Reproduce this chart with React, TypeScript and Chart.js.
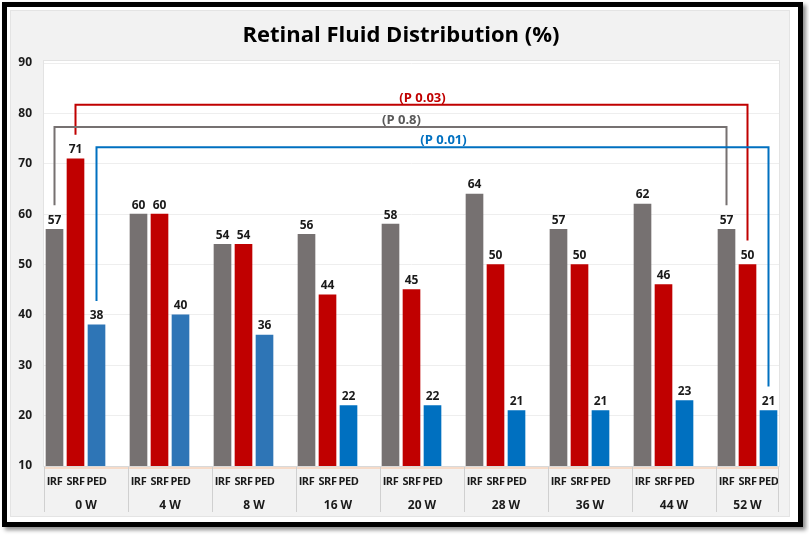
import React, { useEffect, useRef } from "react";
import { Chart, registerables, Plugin } from "chart.js";

Chart.register(...registerables);

const weeks = ["0 W", "4 W", "8 W", "16 W", "20 W", "28 W", "36 W", "44 W", "52 W"];
const seriesNames = ["IRF", "SRF", "PED"];
const irf = [57, 60, 54, 56, 58, 64, 57, 62, 57];
const srf = [71, 60, 54, 44, 45, 50, 50, 46, 50];
const ped = [38, 40, 36, 22, 22, 21, 21, 23, 21];

// p-value brackets between 0 W and 52 W
const pLabels = ["(P 0.03)", "(P 0.8)", "(P 0.01)"];
const pSeries = [1, 0, 2];
const pLevels = [81.7, 77.3, 73.3];

const seriesValues = [irf, srf, ped];
const FONT = "'Open Sans', sans-serif";
const GRAY = "#767171";
const RED = "#C00000";
const BLUE = "#0070C0";
const seriesColors = [GRAY, RED, BLUE];

// each week gets 4 slots (3 bars + a gap), the last one has no gap
const slotCount = weeks.length * 4 - 1;
const slotLabels = Array.from({ length: slotCount }, (_, i) => seriesNames[i % 4] ?? "");

const overlay: Plugin<"bar"> = {
  id: "overlay",
  beforeDraw(chart) {
    const { ctx, chartArea: a } = chart;
    ctx.save();
    ctx.fillStyle = "#ffffff";
    ctx.fillRect(a.left, a.top - 2, a.right - a.left, a.bottom - a.top + 2);
    ctx.strokeStyle = "#e3e3e3";
    ctx.lineWidth = 1;
    ctx.strokeRect(a.left - 0.5, a.top - 2.5, a.right - a.left + 1, a.bottom - a.top + 3);
    ctx.restore();
  },
  afterDatasetsDraw(chart) {
    const { ctx, chartArea: a } = chart;
    const x = chart.scales.x;
    const y = chart.scales.y;
    const slot = (a.right - a.left) / slotCount;
    ctx.save();

    // value labels
    ctx.font = `bold 12px ${FONT}`;
    ctx.fillStyle = "#1a1a1a";
    ctx.textAlign = "center";
    ctx.textBaseline = "bottom";
    chart.data.datasets.forEach((ds, di) => {
      chart.getDatasetMeta(di).data.forEach((el: any, i) => {
        const v = ds.data[i] as number | null;
        if (v == null) return;
        ctx.fillText(String(v), el.x, el.y - 3);
      });
    });

    // brackets
    const last = weeks.length - 1;
    pLabels.forEach((label, k) => {
      const s = pSeries[k];
      const x0 = x.getPixelForValue(s);
      const x1 = x.getPixelForValue(last * 4 + s);
      const yTop = y.getPixelForValue(pLevels[k]);
      const y0 = y.getPixelForValue(seriesValues[s][0]) - 24;
      const y1 = y.getPixelForValue(seriesValues[s][last]) - 24;
      ctx.strokeStyle = seriesColors[s];
      ctx.lineWidth = 2;
      ctx.beginPath();
      ctx.moveTo(x0, y0);
      ctx.lineTo(x0, yTop);
      ctx.lineTo(x1, yTop);
      ctx.lineTo(x1, y1);
      ctx.stroke();
      ctx.font = `bold 13px ${FONT}`;
      ctx.fillStyle = s === 0 ? "#595959" : seriesColors[s];
      ctx.textBaseline = "middle";
      ctx.fillText(label, (x0 + x1) / 2 + 11, yTop - 7);
    });

    // category axis
    ctx.strokeStyle = "#d9d9d9";
    ctx.lineWidth = 1;
    ctx.beginPath();
    ctx.moveTo(a.left, a.bottom + 0.5);
    ctx.lineTo(a.right, a.bottom + 0.5);
    ctx.stroke();
    ctx.strokeStyle = "rgba(248, 203, 173, 0.6)";
    ctx.lineWidth = 2;
    ctx.beginPath();
    ctx.moveTo(a.left, a.bottom + 2);
    ctx.lineTo(a.right, a.bottom + 2);
    ctx.stroke();

    ctx.font = `bold 11px ${FONT}`;
    (ctx as any).letterSpacing = "-0.4px";
    ctx.fillStyle = "#1a1a1a";
    ctx.textBaseline = "middle";
    slotLabels.forEach((l, i) => {
      if (l) ctx.fillText(l, x.getPixelForValue(i), a.bottom + 16);
    });
    (ctx as any).letterSpacing = "0px";
    ctx.font = `bold 12px ${FONT}`;
    ctx.strokeStyle = "#d0d0d0";
    ctx.lineWidth = 1;
    weeks.forEach((w, g) => {
      const gl = x.getPixelForValue(g * 4) - slot / 2;
      const gr = g === last ? a.right : x.getPixelForValue(g * 4 + 4) - slot / 2;
      ctx.beginPath();
      ctx.moveTo(Math.round(gl) + 0.5, a.bottom + 1);
      ctx.lineTo(Math.round(gl) + 0.5, a.bottom + 46);
      ctx.stroke();
      if (g === last) {
        ctx.beginPath();
        ctx.moveTo(Math.round(gr) - 0.5, a.bottom + 1);
        ctx.lineTo(Math.round(gr) - 0.5, a.bottom + 46);
        ctx.stroke();
      }
      ctx.fillText(w, (gl + gr) / 2, a.bottom + 40);
    });

    // title
    ctx.font = `bold 22px ${FONT}`;
    ctx.fillStyle = "#000000";
    ctx.fillText("Retinal Fluid Distribution (%)", 401, 36);
    ctx.restore();
  },
};

const App: React.FC = () => {
  const canvasRef = useRef<HTMLCanvasElement | null>(null);

  useEffect(() => {
    if (!canvasRef.current) return;
    const ctx = canvasRef.current.getContext("2d");
    if (!ctx) return;

    const datasets = seriesNames.map((name, k) => ({
      label: name,
      data: slotLabels.map((_, i) => (i % 4 === k ? seriesValues[k][Math.floor(i / 4)] : null)),
      backgroundColor:
        k === 2
          ? (c: any) => (Math.floor(c.dataIndex / 4) < 3 ? "#2E75B6" : BLUE)
          : seriesColors[k],
      grouped: false,
      barThickness: 17,
    }));

    const chart = new Chart(ctx, {
      type: "bar",
      data: { labels: slotLabels, datasets },
      options: {
        animation: false,
        responsive: false,
        layout: { padding: { left: 12, top: 63, right: 30, bottom: 0 } },
        plugins: { legend: { display: false }, tooltip: { enabled: false }, title: { display: false } },
        scales: {
          x: {
            ticks: { display: false },
            grid: { display: false },
            border: { display: false },
            afterFit: (s: any) => {
              s.height = 70;
            },
          },
          y: {
            min: 10,
            max: 90,
            ticks: {
              stepSize: 10,
              padding: 12,
              color: "#1a1a1a",
              font: { family: FONT, size: 12, weight: "bold" },
            },
            grid: { color: "#eeeeee", drawTicks: false },
            border: { display: false },
            afterFit: (s: any) => {
              s.width = 32;
            },
          },
        },
      },
      plugins: [overlay],
    });

    return () => {
      chart.destroy();
    };
  }, []);

  return (
    <div style={{ position: "absolute", left: 0, top: 0, width: 809, height: 536, background: "#fff" }}>
      <div
        style={{
          position: "absolute",
          left: 2,
          top: 2,
          width: 801,
          height: 525,
          boxSizing: "border-box",
          border: "5px solid #000",
          boxShadow: "3px 3px 4px rgba(0,0,0,0.45)",
          background: "#fff",
        }}
      >
        <div
          style={{
            position: "absolute",
            left: 3,
            top: 3,
            width: 780,
            height: 507,
            boxSizing: "border-box",
            background: "#f2f2f2",
            border: "1px solid #e4e4e4",
          }}
        />
      </div>
      <canvas ref={canvasRef} width={809} height={536} style={{ position: "absolute", left: 0, top: 0 }} />
    </div>
  );
};

export default App;
